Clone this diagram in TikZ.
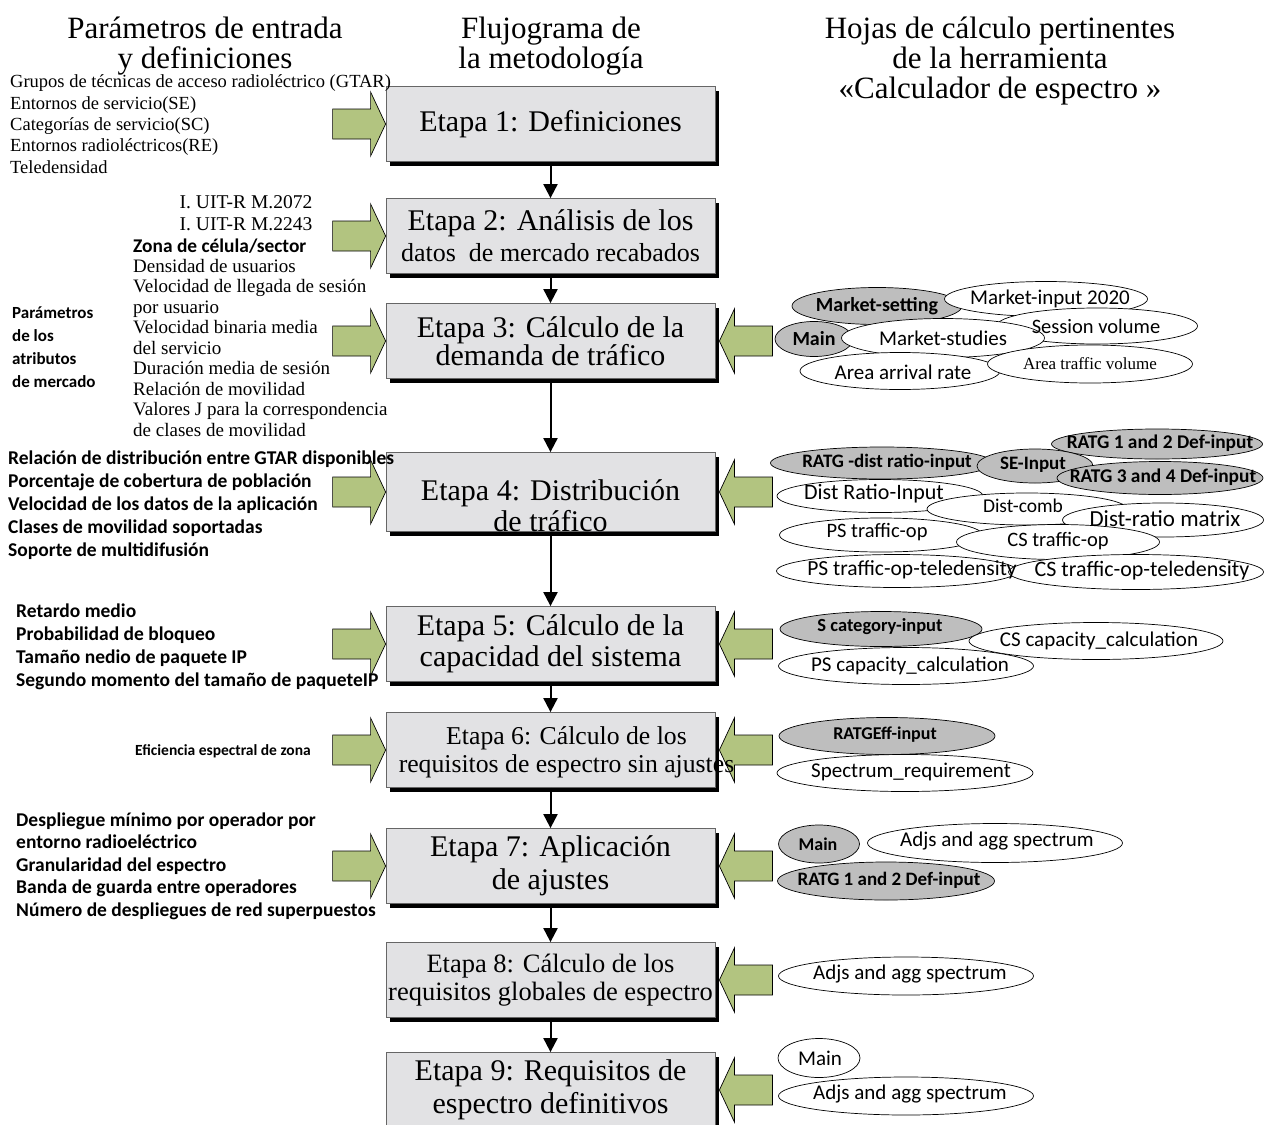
\documentclass[tikz,border=0pt]{standalone}
\usepackage{fontspec}
\setmainfont{Liberation Serif}
\newfontfamily\calfont{Carlito}
\usetikzlibrary{shapes.geometric,arrows.meta,shadows}
\definecolor{boxgray}{RGB}{226,226,228}
\definecolor{ellgray}{RGB}{190,190,190}
\definecolor{agreen}{RGB}{178,196,128}
\newcommand\fs[2]{\fontsize{#1}{#2}\selectfont}
\begin{document}
\begin{tikzpicture}[x=1pt,y=-1pt,
  stage/.style={draw=black!60, line width=0.8pt, fill=boxgray, minimum width=329pt, minimum height=75pt, inner sep=0pt, align=center, font=\fs{30}{31}, general shadow={fill=black, shadow xshift=4pt, shadow yshift=-4pt}},
  stagetext/.style={align=center, inner sep=0pt, font=\fs{30}{31}},
  flow/.style={line width=2pt, -{Triangle[width=14pt,length=14pt]}},
  garrow/.style={draw=black, line width=0.7pt, fill=agreen, line join=miter},
  ellw/.style={ellipse, draw=black, line width=0.7pt, fill=white, inner sep=0pt},
  ellg/.style={ellw, fill=ellgray},
  sz/.style 2 args={minimum width=#1pt, minimum height=#2pt},
  etr/.style={font=\calfont\fs{21}{23}, inner sep=0pt},
  etb/.style={font=\calfont\bfseries\fs{19}{21}, inner sep=0pt},
  ets/.style={font=\fs{17}{19}, inner sep=0pt},
  hd/.style={font=\fs{31}{30}, align=center, anchor=base, inner sep=0pt},
  ls/.style={font=\fs{18.5}{21.3}, anchor=base west, align=left, inner sep=0pt},
  lb/.style={font=\calfont\bfseries\fs{19.5}{23}, anchor=base west, align=left, inner sep=0pt}
]
\useasboundingbox (0,0) rectangle (1271,1124);

% headers (anchor = baseline of the last line)
\node[hd] (h1) at (205,68) {Parámetros de entrada\\y definiciones};
\node[hd] (h2) at (551,68) {Flujograma de\\la metodología};
\node[hd] (h3) at (1000,98) {Hojas de cálculo pertinentes\\de la herramienta\\«Calculador de espectro »};

% stage boxes
\node[stage] (b1) at (550.5,124) {Etapa 1: Definiciones};
\node[stage] (b2) at (550.5,236) {Etapa 2: Análisis de los\\{\fs{26}{31}datos\ \ de mercado recabados}};
\node[stage, font=\fs{30}{28}] (b3) at (550.5,341) {Etapa 3: Cálculo de la\\demanda de tráfico};
\node[stage, minimum height=79pt] (b4) at (550.5,492) {};
\node[stage] (b5) at (550.5,644) {Etapa 5: Cálculo de la\\capacidad del sistema};
\node[stage] (b6) at (550.5,750) {};
\node[stage, font=\fs{30}{33}] (b7) at (550.5,866) {Etapa 7: Aplicación\\de ajustes};
\node[stage, font=\fs{26.5}{28}] (b8) at (550.5,980) {Etapa 8: Cálculo de los\\requisitos globales de espectro};
\node[stage, font=\fs{30}{33}] (b9) at (550.5,1090) {Etapa 9: Requisitos de\\espectro definitivos};

% flow arrows
\draw[flow] (b1.south) -- (b2.north);
\draw[flow] (b2.south) -- (b3.north);
\draw[flow] (b3.south) -- (b4.north);
\draw[flow] (b4.south) -- (b5.north);
\draw[flow] (b5.south) -- (b6.north);
\draw[flow] (b6.south) -- (b7.north);
\draw[flow] (b7.south) -- (b8.north);
\draw[flow] (b8.south) -- (b9.north);

% left green arrows
\foreach \b in {b1,b2,b3,b4,b5,b6,b7}{
  \draw[garrow] (\b.west) -- ++(-15,-32) -- ++(0,17) -- ++(-38,0) -- ++(0,30) -- ++(38,0) -- ++(0,17) -- cycle;
}
% right green arrows
\foreach \b in {b3,b4,b5,b6,b7,b8,b9}{
  \draw[garrow] ([xshift=4pt]\b.east) -- ++(15,-32) -- ++(0,17) -- ++(38,0) -- ++(0,30) -- ++(-38,0) -- ++(0,17) -- cycle;
}

% box texts placed off-centre
\node[stagetext] (t4) at (550.5,506) {Etapa 4: Distribución\\de tráfico};
\node[stagetext, font=\fs{25.7}{28}] (t6) at (566.5,752) {Etapa 6: Cálculo de los\\requisitos de espectro sin ajustes};

% left texts (anchor = baseline of the last line)
\node[ls] (l1) at (10,173) {Grupos de técnicas de acceso radioléctrico (GTAR)\\Entornos de servicio(SE)\\Categorías de servicio(SC)\\Entornos radioléctricos(RE)\\Teledensidad};
\node[ls, anchor=base, align=center, font=\fs{19.5}{22}] (l2a) at (246,230) {I. UIT-R M.2072\\I. UIT-R M.2243};
\node[lb, font=\calfont\bfseries\fs{19.4}{20}] (l2b) at (133,252) {Zona de célula/sector};
\node[ls, font=\fs{19}{20.5}] (l2c) at (133,436) {Densidad de usuarios\\Velocidad de llegada de sesión\\por usuario\\Velocidad binaria media\\del servicio\\Duración media de sesión\\Relación de movilidad\\Valores J para la correspondencia\\de clases de movilidad};
\node[lb, font=\calfont\bfseries\fs{17}{22.7}] (l3) at (12,387) {Parámetros\\de los\\atributos\\de mercado};
\node[lb] (l4) at (8,556) {Relación de distribución entre GTAR disponibles\\Porcentaje de cobertura de población\\Velocidad de los datos de la aplicación\\Clases de movilidad soportadas\\Soporte de multidifusión};
\node[lb] (l5) at (16,686) {Retardo medio\\Probabilidad de bloqueo\\Tamaño nedio de paquete IP\\Segundo momento del tamaño de paqueteIP};
\node[lb, font=\calfont\bfseries\fs{15.5}{20}] (l6) at (135,755) {Eficiencia espectral de zona};
\node[lb, font=\calfont\bfseries\fs{19.5}{22.5}] (l7) at (16,916) {Despliegue mínimo por operador por\\entorno radioeléctrico\\Granularidad del espectro\\Banda de guarda entre operadores\\Número de despliegues de red superpuestos};

% ellipses stage 3
\node[ellg, sz={170}{37}] (ms) at (877,306) {};
\node[ellw, sz={203}{35}] (mi) at (1046,299) {};
\node[ellw, sz={201}{36}] (sv) at (1097,326) {};
\node[ellg, sz={78}{35}] (mn3) at (814,339) {};
\node[ellw, sz={203}{39}] (mst) at (943,338) {};
\node[ellw, sz={200}{37}] (aar) at (900,371) {};
\node[ellw, sz={205}{38}] (atv) at (1090,364) {};
% stage 4
\node[ellg, sz={223}{32}] (rdr) at (882,463) {};
\node[ellg, sz={211}{30}] (r12) at (1157,444) {};
\node[ellg, sz={116}{34}] (sei) at (1035,466) {};
\node[ellg, sz={206}{33}] (r34) at (1160,478) {};
\node[ellw, sz={206}{33}] (dri) at (880,496) {};
\node[ellw, sz={200}{32}] (dc) at (1027,509) {};
\node[ellw, sz={201}{34}] (drm) at (1163,520) {};
\node[ellw, sz={203}{34}] (pst) at (881,535) {};
\node[ellw, sz={203}{35}] (cst) at (1058,542) {};
\node[ellw, sz={241}{33}] (pstt) at (897,571) {};
\node[ellw, sz={255}{35}] (cstt) at (1136,572) {};
% stage 5
\node[ellg, sz={202}{35}] (sci) at (881,629) {};
\node[ellw, sz={254}{37}] (csc) at (1096,641) {};
\node[ellw, sz={255}{37}] (psc) at (906,666) {};
% stage 6
\node[ellg, sz={216}{37}] (rei) at (887,736) {};
\node[ellw, sz={256}{37}] (spr) at (905,773) {};
% stage 7
\node[ellg, sz={81}{38}] (mn7) at (819,844) {};
\node[ellw, sz={255}{39}] (adj7) at (995,843) {};
\node[ellg, sz={217}{38}] (r127) at (886,881) {};
% stage 8
\node[ellw, sz={255}{38}] (adj8) at (906,976) {};
% stage 9
\node[ellw, sz={82}{39}] (mn9) at (819,1058) {};
\node[ellw, sz={255}{38}] (adj9) at (906,1096) {};

% ellipse texts
\node[etb, font=\calfont\bfseries\fs{20}{22}] (ms-t) at (877,306) {Market-setting};
\node[etr] (mi-t) at (1050,299) {Market-input 2020};
\node[etr, font=\calfont\fs{20.5}{23}] (sv-t) at (1096,326) {Session volume};
\node[etb, font=\calfont\bfseries\fs{20}{22}] (mn3-t) at (mn3) {Main};
\node[etr] (mst-t) at (mst) {Market-studies};
\node[etr] (aar-t) at (903,372) {Area arrival rate};
\node[ets] (atv-t) at (1090,364) {Area traffic volume};
\node[etb] (rdr-t) at (887,462) {RATG -dist ratio-input};
\node[etb, font=\calfont\bfseries\fs{19.4}{21}] (r12-t) at (1160,443) {RATG 1 and 2 Def-input};
\node[etb] (sei-t) at (1033,465) {SE-Input};
\node[etb, font=\calfont\bfseries\fs{19.4}{21}] (r34-t) at (1163,477) {RATG 3 and 4 Def-input};
\node[etr, font=\calfont\fs{22}{23}] (dri-t) at (874,494) {Dist Ratio-Input};
\node[etr, font=\calfont\fs{19.5}{23}] (dc-t) at (1023,506) {Dist-comb};
\node[etr, font=\calfont\fs{23}{23}] (drm-t) at (1165,519) {Dist-ratio matrix};
\node[etr, font=\calfont\fs{20.5}{23}] (pst-t) at (877,532) {PS traffic-op};
\node[etr, font=\calfont\fs{20.5}{23}] (cst-t) at (1058,541) {CS traffic-op};
\node[etr, font=\calfont\fs{21.5}{23}] (pstt-t) at (912,570) {PS traffic-op-teledensity};
\node[etr, font=\calfont\fs{22}{23}] (cstt-t) at (1142,571) {CS traffic-op-teledensity};
\node[etb, font=\calfont\bfseries\fs{18.5}{21}] (sci-t) at (880,627) {S category-input};
\node[etr] (csc-t) at (1099,641) {CS capacity\_calculation};
\node[etr] (psc-t) at (910,666) {PS capacity\_calculation};
\node[etb, font=\calfont\bfseries\fs{18}{21}] (rei-t) at (885,735) {RATGEff-input};
\node[etr] (spr-t) at (911,772) {Spectrum\_requirement};
\node[etb, font=\calfont\bfseries\fs{18}{21}] (mn7-t) at (818,844) {Main};
\node[etr] (adj7-t) at (997,841) {Adjs and agg spectrum};
\node[etb] (r127-t) at (889,880) {RATG 1 and 2 Def-input};
\node[etr] (adj8-t) at (910,974) {Adjs and agg spectrum};
\node[etr] (mn9-t) at (820,1058) {Main};
\node[etr] (adj9-t) at (910,1094) {Adjs and agg spectrum};
\end{tikzpicture}
\end{document}
